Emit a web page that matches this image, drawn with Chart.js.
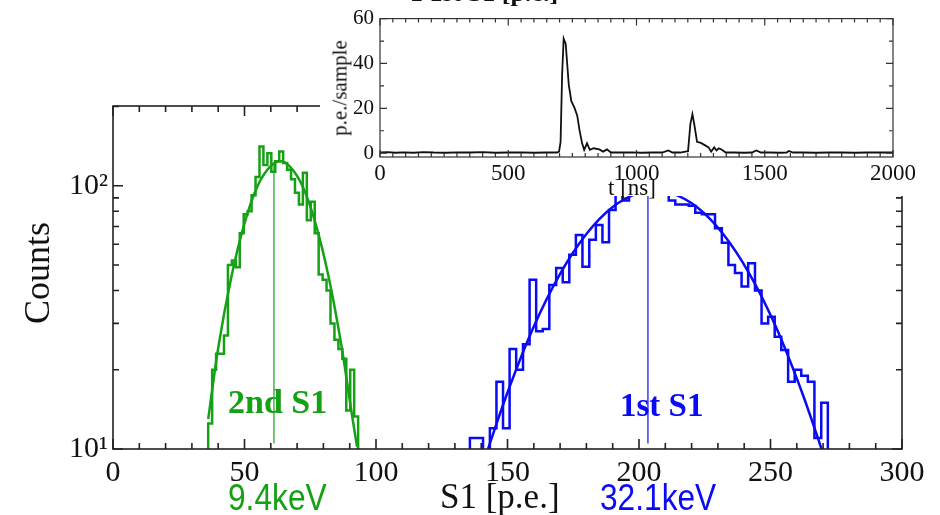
<!DOCTYPE html>
<html>
<head>
<meta charset="utf-8">
<script src="https://cdn.jsdelivr.net/npm/chart.js@4.4.0/dist/chart.umd.min.js"></script>
<style>
  body { margin: 0; background: #fff; }
  #wrap { position: relative; width: 940px; height: 515px; overflow: hidden; }
  canvas { position: absolute; }
  .lbl { position: absolute; white-space: nowrap; line-height: 1; }
  .serif { font-family: 'Liberation Serif', serif; color: #111; }
  .sans { font-family: 'Liberation Sans', sans-serif; transform: scaleX(0.88); transform-origin: left top; }
</style>
</head>
<body>
<div id="wrap">
  <canvas id="main" width="940" height="515" style="left:0;top:0"></canvas>
  <canvas id="inset" width="620" height="196" style="left:320px;top:0;background:#fff"></canvas>

  <div class="lbl serif" style="left:410px;top:-20px;font-size:26px;font-weight:bold">1 1st S1 [p.e.]</div>
  <div class="lbl serif" style="left:340px;top:88px;font-size:21px;transform:translate(-50%,-50%) rotate(-90deg)">p.e./sample</div>
  <div class="lbl serif" style="left:608px;top:176px;font-size:23px">t [ns]</div>

  <div class="lbl serif" style="left:37px;top:273px;font-size:36px;transform:translate(-50%,-50%) rotate(-90deg)">Counts</div>
  <div class="lbl serif" style="left:440px;top:479px;font-size:35px">S1 [p.e.]</div>
  <div class="lbl serif" style="left:228px;top:385px;font-size:34px;font-weight:bold;color:#16a016">2nd S1</div>
  <div class="lbl serif" style="left:620px;top:389px;font-size:33px;font-weight:bold;color:#0a0af5">1st S1</div>
  <div class="lbl sans" style="left:228px;top:480px;font-size:36px;color:#16a016">9.4keV</div>
  <div class="lbl sans" style="left:600px;top:480px;font-size:36px;color:#0a0af5">32.1keV</div>
</div>

<script>
// --- S1 spectra (p.e.) ---
// 2nd S1 histogram: bin edges and counts
const greenEdges = [36.2, 37.7, 39.2, 40.7, 42.2, 43.7, 45.2, 46.7, 48.2, 49.7,
                    51.2, 52.7, 54.2, 55.7, 57.2, 58.7, 60.2, 61.7, 63.2, 64.7,
                    66.2, 67.7, 69.2, 70.7, 72.2, 73.7, 75.2, 76.7, 78.2, 79.7,
                    81.2, 82.7, 84.2, 85.7, 87.2, 88.7, 90.2, 91.7, 93.2];
const greenCounts = [12.5, 20, 23, 23, 27, 50, 52, 49, 66, 78,
                     80, 92, 108, 141, 120, 133, 113, 124, 135, 122,
                     115, 106, 94, 85, 112, 74, 87, 66, 46, 44,
                     40, 30, 26, 24, 22, 14, 20, 13.3];

// 1st S1 histogram
const blueEdges = [135.7, 138.2, 140.7, 143.3, 145.8, 148.3, 150.8, 153.3, 155.9, 158.4,
                   160.9, 163.4, 165.9, 168.5, 171.0, 173.5, 176.0, 178.5, 181.1, 183.6,
                   186.1, 188.6, 191.1, 193.7, 196.2, 198.7, 201.2, 203.7, 206.3, 208.8,
                   211.3, 213.8, 216.3, 218.9, 221.4, 223.9, 226.4, 228.9, 231.5, 234.0,
                   236.5, 239.0, 241.5, 244.1, 246.6, 249.1, 251.6, 254.1, 256.7, 259.2,
                   261.7, 264.2, 266.7, 269.3, 271.8];
const blueCounts = [11, 11, 9, 12, 18, 12, 24, 20, 25, 44,
                    28, 28.6, 42, 48.7, 43, 54.7, 65, 49.3, 62.4, 71,
                    61, 81, 93, 88, 100, 95, 102, 98, 96, 100,
                    88, 85, 85, 84, 79, 78, 78, 69, 60.7, 50,
                    46.6, 41.4, 50.8, 40, 30, 31.8, 26.7, 23.8, 18, 20,
                    19, 18, 11, 15];

// gaussian fits
const greenFitX = [36.2, 40, 45, 50, 55, 60, 63.5, 67, 72, 77, 82, 87, 91, 92.8];
const greenFitY = [13, 24.2, 45, 72, 100, 119, 124, 119, 100, 72, 45, 24.2, 13.2, 10.2];
const blueFitX = [142.6, 145, 150, 160, 170, 180, 190, 200, 206, 212, 222, 232, 242, 252, 262, 267, 269.4];
const blueFitY = [10, 11.8, 16.4, 29.2, 46.3, 65.6, 83.1, 94, 96, 94, 83.1, 65.6, 46.3, 29.2, 16.4, 11.8, 10];

// mean markers
const greenMean = 61.2, blueMean = 203.4;
const greenMeanSpan = [10.5, 122];
const blueMeanSpan = [10.5, 200];

// axes
const mainXTicks = [0, 50, 100, 150, 200, 250, 300];
const mainYTicks = [10, 100];
const mainYLabels = ['10\u00B9', '10\u00B2'];
const mainYMinor = [20, 30, 40, 50, 60, 70, 80, 90, 200];

// --- inset waveform ---
const waveT = [0, 30, 60, 90, 130, 170, 210, 260, 300, 350,
               400, 450, 500, 550, 600, 650, 690, 698, 704, 710,
               716, 724, 736, 746, 758, 769, 778, 788, 796, 807,
               818, 833, 855, 870, 885, 900, 940, 980, 1020, 1060,
               1100, 1124, 1140, 1170, 1191, 1201, 1210, 1218, 1225, 1236,
               1251, 1266, 1281, 1291, 1303, 1312, 1321, 1333, 1348, 1380,
               1420, 1450, 1467, 1485, 1520, 1560, 1585, 1594, 1610, 1650,
               1700, 1750, 1800, 1850, 1900, 1950, 2000];
const waveV = [0.3, 0.5, 0.2, 0.4, 0.2, 0.5, 0.3, 0.2, 0.4, 0.3,
               0.5, 0.2, 0.3, 0.4, 0.2, 0.3, 0.3, 0.7, 5, 35,
               51.1, 48.7, 30.5, 23.2, 20.3, 16.7, 10.2, 4.4, 1.5, 4.4,
               1.5, 2.2, 1.7, 0.7, 1.7, 0.3, 0.3, 0.4, 0.2, 0.3,
               0.3, 1.2, 0.3, 0.3, 0.7, 0.9, 13, 17.4, 13, 5.1,
               4.6, 3.6, 2.6, 0.7, 2.6, 1.2, 2.2, 1.5, 0.3, 0.3,
               0.2, 0.3, 1.2, 0.3, 0.3, 0.2, 0.3, 1.0, 0.3, 0.3,
               0.2, 0.3, 0.3, 0.2, 0.3, 0.3, 0.3];
const insetXTicks = [0, 500, 1000, 1500, 2000];
const insetYTicks = [0, 20, 40, 60];

const GREEN = '#16a016';
const BLUE = '#0a0af5';
const FLOOR = 1; // below the log axis, so the histogram drops out of view

Chart.defaults.font.family = "'Liberation Serif', serif";
Chart.defaults.color = '#111';

function histPoints(edges, counts) {
  const pts = [{x: edges[0], y: FLOOR}];
  counts.forEach((c, i) => {
    pts.push({x: edges[i], y: c});
    pts.push({x: edges[i + 1], y: c});
  });
  pts.push({x: edges[edges.length - 1], y: FLOOR});
  return pts;
}
const xy = (xs, ys) => xs.map((x, i) => ({x: x, y: ys[i]}));

function range(from, to, step, skip) {
  const out = [];
  for (let v = from; v <= to + 1e-9; v += step) if (!skip || Math.abs(v % skip) > 1e-9) out.push(v);
  return out;
}

// frame + inward ticks on all four sides, placed by the chart's scales
const frameTicks = {
  id: 'frameTicks',
  afterDatasetsDraw(chart, args, o) {
    const {ctx, chartArea: a} = chart;
    const xs = chart.scales.x, ys = chart.scales.y;
    ctx.save();
    ctx.strokeStyle = o.color;
    ctx.lineWidth = o.lineWidth;
    ctx.beginPath();
    const xTick = (v, len) => {
      const p = xs.getPixelForValue(v);
      ctx.moveTo(p, a.bottom); ctx.lineTo(p, a.bottom - len);
      ctx.moveTo(p, a.top); ctx.lineTo(p, a.top + len);
    };
    const yTick = (v, len) => {
      const p = ys.getPixelForValue(v);
      ctx.moveTo(a.left, p); ctx.lineTo(a.left + len, p);
      ctx.moveTo(a.right, p); ctx.lineTo(a.right - len, p);
    };
    o.xMajor.forEach(v => xTick(v, o.majorLen));
    o.xMinor.forEach(v => xTick(v, o.minorLen));
    o.yMajor.forEach(v => yTick(v, o.majorLen));
    o.yMinor.forEach(v => yTick(v, o.minorLen));
    ctx.stroke();
    ctx.strokeRect(a.left, a.top, a.right - a.left, a.bottom - a.top);
    ctx.restore();
  }
};

// main spectrum
new Chart(document.getElementById('main'), {
  type: 'line',
  data: {
    datasets: [
      { data: histPoints(greenEdges, greenCounts), borderColor: GREEN, borderWidth: 2.5, pointRadius: 0, tension: 0 },
      { data: histPoints(blueEdges, blueCounts), borderColor: BLUE, borderWidth: 2.5, pointRadius: 0, tension: 0 },
      { data: xy(greenFitX, greenFitY), borderColor: GREEN, borderWidth: 2.5, pointRadius: 0, cubicInterpolationMode: 'monotone' },
      { data: xy(blueFitX, blueFitY), borderColor: BLUE, borderWidth: 2.5, pointRadius: 0, cubicInterpolationMode: 'monotone' },
      { data: greenMeanSpan.map(c => ({x: greenMean, y: c})), borderColor: GREEN, borderWidth: 1.2, pointRadius: 0 },
      { data: blueMeanSpan.map(c => ({x: blueMean, y: c})), borderColor: BLUE, borderWidth: 1.2, pointRadius: 0 }
    ]
  },
  options: {
    responsive: false,
    animation: false,
    layout: { padding: { left: 0, top: 106, right: 38, bottom: 0 } },
    plugins: {
      legend: { display: false },
      tooltip: { enabled: false },
      frameTicks: {
        color: '#222', lineWidth: 1.6, majorLen: 10, minorLen: 6,
        xMajor: mainXTicks, xMinor: range(10, 290, 10, 50),
        yMajor: mainYTicks, yMinor: mainYMinor
      }
    },
    scales: {
      x: {
        type: 'linear', min: 0, max: 300,
        grid: { display: false, drawTicks: false },
        border: { display: false },
        afterBuildTicks: s => { s.ticks = mainXTicks.map(v => ({value: v})); },
        afterFit: s => { s.height = 66; },
        ticks: { font: { size: 30 }, padding: 6, maxRotation: 0, autoSkip: false, callback: v => String(v) }
      },
      y: {
        type: 'logarithmic', min: 10, max: 201,
        grid: { display: false, drawTicks: false },
        border: { display: false },
        afterBuildTicks: s => { s.ticks = mainYTicks.map(v => ({value: v})); },
        afterFit: s => { s.width = 113; },
        ticks: {
          font: { size: 30 }, padding: 5, autoSkip: false,
          callback: v => mainYLabels[mainYTicks.indexOf(v)]
        }
      }
    }
  },
  plugins: [frameTicks]
});

// waveform inset
new Chart(document.getElementById('inset'), {
  type: 'line',
  data: {
    datasets: [
      { data: xy(waveT, waveV), borderColor: '#111', borderWidth: 1.8, pointRadius: 0, tension: 0 }
    ]
  },
  options: {
    responsive: false,
    animation: false,
    layout: { padding: { left: 0, top: 15, right: 47, bottom: 0 } },
    plugins: {
      legend: { display: false },
      tooltip: { enabled: false },
      frameTicks: {
        color: '#333', lineWidth: 1.2, majorLen: 7, minorLen: 4,
        xMajor: insetXTicks, xMinor: range(50, 1950, 50, 500),
        yMajor: insetYTicks, yMinor: [10, 30, 50]
      }
    },
    scales: {
      x: {
        type: 'linear', min: 0, max: 2000,
        grid: { display: false, drawTicks: false },
        border: { display: false },
        afterBuildTicks: s => { s.ticks = insetXTicks.map(v => ({value: v})); },
        afterFit: s => { s.height = 39; },
        ticks: { font: { size: 23 }, padding: 3, maxRotation: 0, autoSkip: false, callback: v => String(v) }
      },
      y: {
        type: 'linear', min: -1.7, max: 60,
        grid: { display: false, drawTicks: false },
        border: { display: false },
        afterBuildTicks: s => { s.ticks = insetYTicks.map(v => ({value: v})); },
        afterFit: s => { s.width = 60; },
        ticks: { font: { size: 21 }, padding: 6, autoSkip: false, callback: v => String(v) }
      }
    }
  },
  plugins: [frameTicks]
});
</script>
</body>
</html>
